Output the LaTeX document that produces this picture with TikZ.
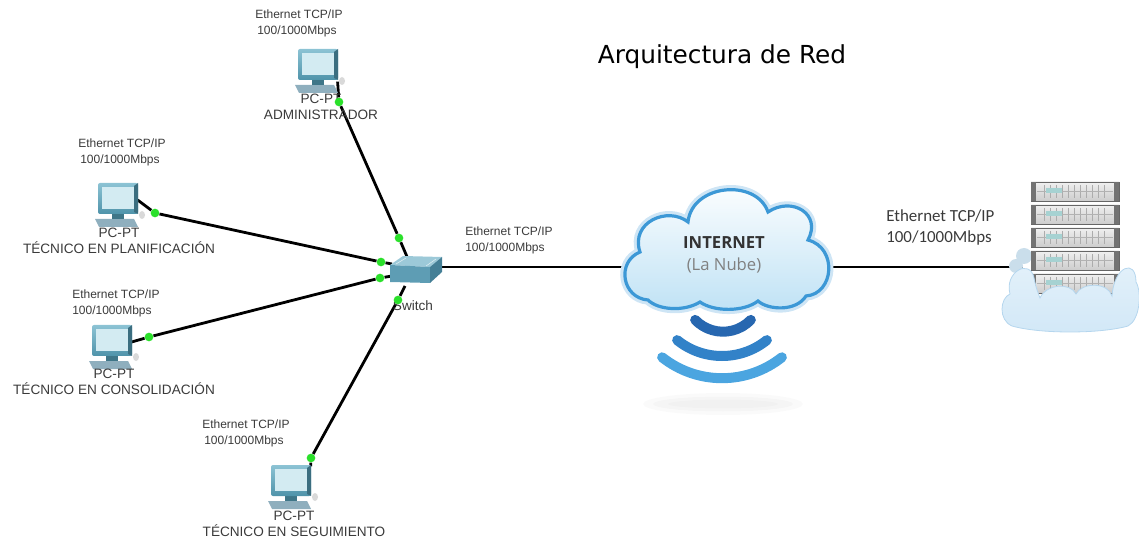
\documentclass[tikz,border=0pt]{standalone}
\usepackage{fontspec}
\setmainfont{Liberation Sans}
\newfontfamily\titlefont{DejaVu Sans}
\newfontfamily\calfont{Carlito}
\newfontfamily\osfont{Open Sans}
\usetikzlibrary{calc}
\pgfdeclarelayer{bg}
\pgfsetlayers{bg,main}

\definecolor{pcframe}{HTML}{4F93AA}
\definecolor{pcframelt}{HTML}{8CC3D4}
\definecolor{pcscreen}{HTML}{D3EBF2}
\definecolor{kbd}{HTML}{8FAFBE}
\definecolor{portgreen}{HTML}{2BE02B}
\definecolor{swtop}{HTML}{9CC9D8}
\definecolor{swfront}{HTML}{5E9DB4}
\definecolor{swside}{HTML}{447F96}
\definecolor{cloudedge}{HTML}{3C98D6}
\definecolor{cloudfill}{HTML}{BFE2F5}
\definecolor{wave1}{HTML}{2767B0}
\definecolor{wave2}{HTML}{3282C8}
\definecolor{wave3}{HTML}{4BA5E0}
\definecolor{srvcloud}{HTML}{D2E8F7}
\definecolor{srvcloudedge}{HTML}{B5D6EE}
\definecolor{labelgray}{HTML}{3A3A3A}

\tikzset{
  netlabel/.style={font=\fontsize{9}{12}\selectfont, text=labelgray, align=left, anchor=north west, inner sep=0pt},
  pclabel/.style={font=\fontsize{10.2}{11.6}\selectfont, text=labelgray, align=center, inner sep=0pt},
  gdot/.style={circle, fill=portgreen, inner sep=0pt, minimum size=6.5pt},
  pclink/.style={line width=2.1pt, black},
  wanlink/.style={line width=1.5pt, black},
  wave/.style={line width=7.5pt, line cap=round},
  pcicon/.pic={
    % keyboard slab and mouse
    \fill[kbd] (-23,19) -- (16,19) -- (20,27) -- (-19,27) -- cycle;
    \fill[gray!30] (24,15) ellipse (3 and 4);
    % neck
    \fill[pcframe!80!black] (-6,13) rectangle (6,19);
    % monitor frame and screen
    \shade[top color=pcframelt, bottom color=pcframe, rounded corners=1.5pt] (-20,-17) rectangle (20,14);
    \fill[pcframe!75!black] (16,-14) -- (20,-17) -- (20,14) -- (16,12) -- cycle;
    \fill[pcscreen] (-16,-13) rectangle (16,9);
    \node[inner sep=0pt, minimum width=29pt, minimum height=23pt] (-mon) at (0,0) {};
  }
}

\begin{document}
\begin{tikzpicture}[x=0.75pt, y=-0.75pt]
\useasboundingbox (0,0) rectangle (1139,538);

% ---------- title ----------
\node[font=\titlefont\fontsize{18.6}{20}\selectfont] (title) at (722,57) {Arquitectura de Red};

% ---------- workstations ----------
\pic (pcA) at (318,66)  {pcicon};
\pic (pcP) at (118,200) {pcicon};
\pic (pcC) at (112,342) {pcicon};
\pic (pcS) at (291,482) {pcicon};

\node[pclabel] (lblA) at (321,107) {PC-PT\\ADMINISTRADOR};
\node[pclabel] (lblP) at (119,241) {PC-PT\\TÉCNICO EN PLANIFICACIÓN};
\node[pclabel] (lblC) at (114,382) {PC-PT\\TÉCNICO EN CONSOLIDACIÓN};
\node[pclabel] (lblS) at (294,524) {PC-PT\\TÉCNICO EN SEGUIMIENTO};

\node[netlabel] (ethA) at (255,10)  {Ethernet TCP/IP\\\hspace*{1.5pt}100/1000Mbps};
\node[netlabel] (ethP) at (78,139)  {Ethernet TCP/IP\\\hspace*{1.5pt}100/1000Mbps};
\node[netlabel] (ethC) at (72,290)  {Ethernet TCP/IP\\100/1000Mbps};
\node[netlabel] (ethS) at (202,420) {Ethernet TCP/IP\\\hspace*{1.5pt}100/1000Mbps};
\node[netlabel] (ethW) at (465,227) {Ethernet TCP/IP\\100/1000Mbps};
\node[netlabel, font=\calfont\fontsize{12.7}{16}\selectfont] (ethR) at (886,209) {Ethernet TCP/IP\\100/1000Mbps};

% ---------- switch ----------
\node[inner sep=0pt, minimum width=42pt, minimum height=20pt] (sw) at (414,269) {};
\fill[swtop]   (390,265) -- (403,256) -- (442,257) -- (430,267) -- cycle;
\fill[swfront] (390,265) -- (430,267) -- (430,283) -- (390,282) -- cycle;
\fill[swside]  (430,267) -- (442,257) -- (442,272) -- (430,283) -- cycle;
\draw[white!70!swtop, line width=0.4pt] (396,264) -- (406,258) (426,266) -- (436,259);
\node[pclabel, anchor=center] (swlbl) at (413,306) {Switch};

% ---------- port indicators ----------
\node[gdot] (dA1) at (339,102) {};
\node[gdot] (dA2) at (399,238) {};
\node[gdot] (dP1) at (155,213) {};
\node[gdot] (dP2) at (381,262) {};
\node[gdot] (dC1) at (149,337) {};
\node[gdot] (dC2) at (380,278) {};
\node[gdot] (dS1) at (311,458) {};
\node[gdot] (dS2) at (398,300) {};
\coordinate (swA) at (408,259);
\coordinate (swP) at (392,264);
\coordinate (swC) at (392,276);
\coordinate (swS) at (405,286);

% ---------- internet cloud ----------
\node[inner sep=0pt, minimum width=149pt, minimum height=60pt] (inet) at (726,267) {};
\path[draw=cloudedge!25, line width=7pt]
  (648,300) .. controls (622,298) and (616,262) .. (640,252)
  .. controls (630,222) and (668,206) .. (688,222)
  .. controls (692,184) and (756,178) .. (768,212)
  .. controls (792,196) and (822,214) .. (808,240)
  .. controls (838,248) and (834,294) .. (806,296)
  .. controls (796,312) and (768,310) .. (758,301)
  .. controls (744,312) and (714,312) .. (700,302)
  .. controls (684,312) and (658,310) .. (648,300) -- cycle;
\shade[top color=white, bottom color=cloudfill, draw=cloudedge, line width=2.4pt]
  (648,300) .. controls (622,298) and (616,262) .. (640,252)
  .. controls (630,222) and (668,206) .. (688,222)
  .. controls (692,184) and (756,178) .. (768,212)
  .. controls (792,196) and (822,214) .. (808,240)
  .. controls (838,248) and (834,294) .. (806,296)
  .. controls (796,312) and (768,310) .. (758,301)
  .. controls (744,312) and (714,312) .. (700,302)
  .. controls (684,312) and (658,310) .. (648,300) -- cycle;
\node[font=\osfont\bfseries\fontsize{12.5}{14}\selectfont, text=black!80] (inettxt) at (724,243) {INTERNET};
\node[font=\osfont\fontsize{12.5}{14}\selectfont, text=black!50] (inetsub) at (724,265) {(La Nube)};

% wireless waves below the cloud (angles measured with y pointing down)
\draw[wave, wave1] (723,293) ++(136:38.7) arc[start angle=136, end angle=44, radius=38.7];
\draw[wave, wave2] (722,284.7) ++(129:71.3) arc[start angle=129, end angle=51, radius=71.3];
\draw[wave, wave3] (722,282) ++(128.5:96.2) arc[start angle=128.5, end angle=51.5, radius=96.2];

% soft shadow
\fill[gray!30, opacity=0.12] (723,404) ellipse (80 and 11);
\fill[gray!30, opacity=0.15] (723,404) ellipse (70 and 7.5);
\fill[gray!30, opacity=0.15] (723,404) ellipse (55 and 4.5);

% ---------- server rack ----------
\node[inner sep=0pt, minimum width=66pt, minimum height=82pt] (srv) at (1075,237) {};
\fill[srvcloud!90!gray] (1024,256) circle (8);
\fill[srvcloud!90!gray] (1016,266) circle (7);
\foreach \y in {182,205,228,251,274} {
  \shade[top color=gray!12, bottom color=gray!40, draw=black!60, line width=0.6pt]
    (1031,\y) rectangle (1119,\y+19);
  \fill[black!55] (1031,\y) rectangle (1036,\y+19);
  \fill[black!55] (1114,\y) rectangle (1119,\y+19);
  \foreach \x in {1044,1050,...,1108} {
    \draw[gray!65, line width=0.4pt] (\x,\y+3) -- (\x,\y+16);
  }
  \draw[gray!60, line width=0.4pt] (1037,\y+9.5) -- (1113,\y+9.5);
  \fill[teal!35] (1046,\y+6) rectangle (1062,\y+11);
}
\shade[top color=srvcloud!60!white, bottom color=srvcloud, draw=srvcloudedge, line width=0.6pt]
  (1040,298) .. controls (1046,284) and (1070,282) .. (1076,294)
  .. controls (1082,282) and (1108,282) .. (1112,296)
  .. controls (1114,266) and (1136,258) .. (1136,282)
  .. controls (1142,292) and (1140,320) .. (1128,326)
  .. controls (1100,334) and (1040,334) .. (1012,326)
  .. controls (998,320) and (1000,298) .. (1010,294)
  .. controls (1004,272) and (1030,258) .. (1034,278)
  .. controls (1036,288) and (1038,293) .. (1040,298) -- cycle;

% ---------- connections ----------
\begin{pgfonlayer}{bg}
  \draw[pclink] (pcA-mon.south east) -- (dA1) -- (dA2) -- (swA);
  \draw[pclink] (pcP-mon.east) -- (dP1) -- (dP2) -- (swP);
  \draw[pclink] (pcC-mon.east) -- (dC1) -- (dC2) -- (swC);
  \draw[pclink] (pcS-mon.north east) -- (dS1) -- (dS2) -- (swS);
  \draw[wanlink] (sw.east |- inet.west) -- (inet.west);
  \draw[wanlink] (inet.east) -- ($(srv.west |- inet.east)+(-8,0)$);
\end{pgfonlayer}
\end{tikzpicture}
\end{document}
